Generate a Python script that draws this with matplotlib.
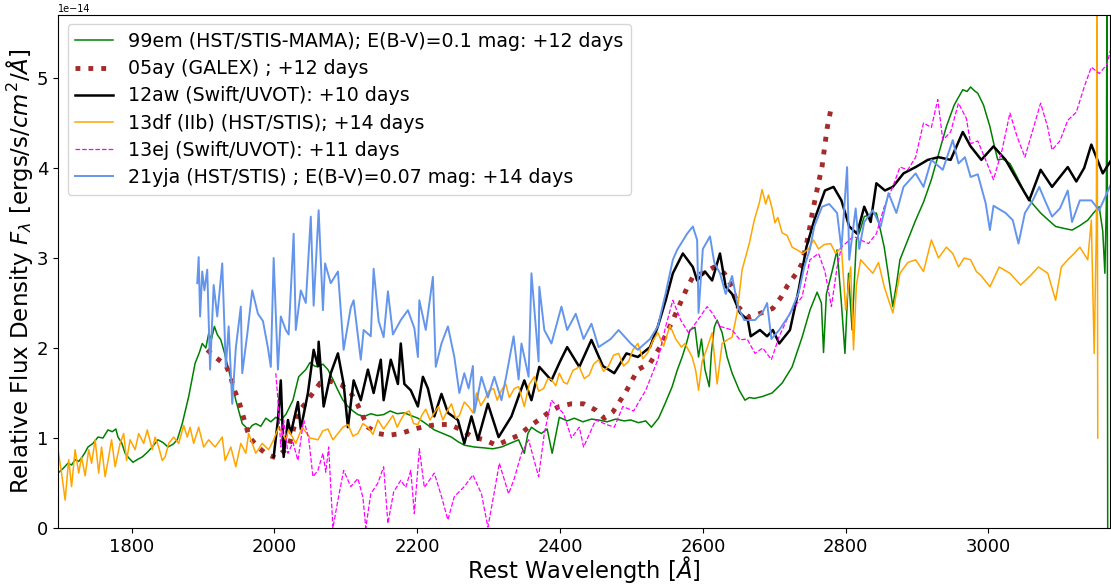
import matplotlib
matplotlib.use("Agg")
import matplotlib.pyplot as plt
import numpy as np

# flux values are in units of 1e-14 ergs/s/cm^2/A

# 99em (HST/STIS-MAMA)
wl_99em = [1697, 1704, 1711, 1716, 1721, 1726, 1731, 1735, 1739, 1746, 1753, 1760, 1767, 1773, 1778, 1781, 1786,
           1791, 1796, 1802, 1808, 1815, 1822, 1829, 1837, 1844, 1851, 1858, 1864, 1871, 1880, 1889, 1895,
           1899, 1904, 1908, 1912, 1916, 1920, 1925, 1930, 1936, 1946, 1955, 1964, 1969, 1974, 1981, 1988,
           1995, 2002, 2009, 2016, 2026, 2034, 2044, 2050, 2056, 2061, 2068, 2075,
           2082, 2089, 2096, 2103, 2110, 2117, 2126, 2135, 2144, 2153, 2162, 2172, 2182, 2191, 2201, 2212, 2224,
           2236, 2248, 2257, 2266, 2280, 2294, 2306, 2318, 2330, 2342, 2350, 2355, 2360, 2367, 2374, 2382, 2389,
           2399, 2410, 2420, 2432, 2444, 2454, 2466, 2478, 2490, 2499, 2510, 2520, 2528, 2538, 2547, 2557, 2564,
           2571, 2577, 2582, 2589, 2594, 2598, 2603, 2609, 2612, 2616, 2620, 2627, 2634, 2641, 2651, 2659, 2665,
           2672, 2683, 2697, 2711, 2725, 2739, 2750, 2760, 2766, 2769, 2773, 2781, 2788, 2794, 2799, 2804, 2809,
           2815, 2820, 2826,
           2834, 2843, 2849, 2854, 2860, 2866, 2871, 2876, 2887, 2898, 2909, 2920, 2930, 2941, 2952, 2964, 2970,
           2975, 2980, 2985, 2993, 3002, 3008, 3013, 3020, 3030, 3040, 3051, 3062, 3073, 3084, 3094, 3105, 3117,
           3128, 3139, 3147, 3155, 3160, 3163, 3165, 3166, 3167]
fx_99em = [0.61, 0.66, 0.72, 0.7, 0.76, 0.74, 0.79, 0.84, 0.9, 0.94, 1.01, 1.0, 1.09, 1.07, 1.1, 1.01, 0.95,
           0.83, 0.78, 0.73, 0.76, 0.79, 0.84, 0.9, 0.98, 0.95, 0.9, 0.93, 0.98, 1.16, 1.46, 1.83, 1.95,
           2.05, 2.0, 2.16, 2.1, 2.24, 2.15, 2.09, 1.95, 1.76, 1.42, 1.16, 1.09, 1.14, 1.16, 1.13, 1.22,
           1.18, 1.23, 1.2, 1.26, 1.42, 1.68, 1.76, 1.84, 1.8, 1.79, 1.82, 1.76,
           1.65, 1.53, 1.42, 1.35, 1.3, 1.26, 1.24, 1.27, 1.25, 1.26, 1.3, 1.27, 1.28, 1.25, 1.22, 1.16, 1.09,
           1.05, 1.01, 0.96, 0.92, 0.9, 0.89, 0.88, 0.9, 0.94, 0.98, 0.83, 1.05, 1.12, 1.08, 1.05, 1.1, 0.83,
           1.23, 1.19, 1.22, 1.18, 1.21, 1.2, 1.18, 1.21, 1.19, 1.2, 1.17, 1.19, 1.12, 1.22, 1.38, 1.57, 1.75,
           1.9, 2.05, 2.2, 2.23, 1.9, 2.1, 1.76, 1.57, 1.95, 2.23, 2.31, 2.17, 1.9, 1.72, 1.53, 1.42, 1.45,
           1.44, 1.46, 1.5, 1.61, 1.79, 2.12, 2.42, 2.62, 2.5, 1.95, 2.6, 2.85, 3.09, 2.5, 1.94, 2.83, 2.2,
           3.2, 3.3, 3.46,
           3.48, 3.5, 3.3, 3.12, 2.8, 2.46, 2.7, 2.98, 3.2, 3.42, 3.62, 3.87, 4.15, 4.46, 4.7, 4.87, 4.85,
           4.9, 4.86, 4.83, 4.7, 4.46, 4.25, 4.09, 4.1, 4.05, 3.9, 3.72, 3.6, 3.5, 3.42, 3.35, 3.33, 3.31,
           3.36, 3.42, 3.5, 3.57, 3.3, 2.83, 3.6, 6.5, -0.5]

# 05ay (GALEX)
wl_05ay = [1906, 1917, 1932, 1939, 1943, 1950, 1955, 1960, 1965, 1977, 1989, 2002, 2020, 2033, 2043, 2054,
           2064, 2079, 2094, 2107, 2116, 2124, 2131, 2145, 2160, 2177, 2196, 2212, 2229, 2245, 2262, 2278,
           2294, 2311, 2328, 2342, 2356, 2370, 2385, 2399, 2416, 2433, 2450, 2462, 2474, 2492, 2509, 2526,
           2540, 2558, 2578, 2586, 2603, 2616, 2630, 2641, 2649, 2665, 2682, 2698, 2710, 2719, 2731, 2739,
           2748, 2753, 2760, 2767, 2774, 2780]
fx_05ay = [1.98, 1.9, 1.81, 1.68, 1.55, 1.42, 1.28, 1.14, 1.01, 0.9, 0.82, 0.78, 0.9, 1.28, 1.38, 1.5,
           1.61, 1.63, 1.59, 1.5, 1.38, 1.24, 1.12, 1.05, 1.03, 1.05, 1.1, 1.13, 1.15, 1.15, 1.09, 1.01,
           0.98, 0.92, 0.98, 1.03, 1.12, 1.2, 1.29, 1.35, 1.38, 1.38, 1.31, 1.22, 1.29, 1.51, 1.76, 1.83,
           2.01, 2.31, 2.67, 2.79, 2.84, 2.9, 2.83, 2.68, 2.46, 2.34, 2.39, 2.44, 2.57, 2.7, 2.83, 2.94,
           3.26, 3.49, 3.76, 4.02, 4.44, 4.68]

# 12aw (Swift/UVOT)
wl_12aw = [1999, 2005, 2009, 2013, 2019, 2023, 2033, 2037, 2047, 2055, 2061, 2062, 2069, 2079, 2089, 2097,
           2103, 2111, 2121, 2131, 2139, 2149, 2153, 2163, 2173, 2177, 2182, 2191, 2201, 2208, 2215, 2224,
           2234, 2243, 2257, 2266, 2276, 2285, 2299, 2314, 2332, 2350, 2360, 2371, 2388, 2400, 2410, 2427,
           2444, 2460, 2476, 2493, 2509, 2526, 2537, 2548, 2558, 2572, 2586, 2592, 2603, 2613, 2624, 2632,
           2641, 2652, 2663, 2667, 2680, 2690, 2698, 2707, 2722, 2734, 2745, 2756, 2771, 2783, 2794, 2805,
           2816, 2826, 2835, 2843, 2855, 2866, 2881, 2898, 2915, 2930, 2947, 2964, 2975, 2990, 3007, 3024,
           3040, 3057, 3073, 3089, 3100, 3111, 3123, 3134, 3144, 3160, 3172]
fx_12aw = [0.79, 1.2, 1.64, 0.79, 1.2, 1.05, 1.4, 1.1, 1.5, 1.98, 1.8, 2.07, 1.35, 1.72, 1.94, 1.6,
           1.12, 1.64, 1.42, 1.76, 1.5, 1.87, 1.42, 1.87, 1.6, 2.05, 1.6, 1.53, 1.35, 1.68, 1.55, 1.24,
           1.49, 1.28, 1.2, 0.94, 1.24, 0.98, 1.38, 1.01, 1.24, 1.64, 1.42, 1.79, 1.64, 1.85, 2.01, 1.79,
           2.09, 1.8, 1.72, 1.94, 1.9, 2.01, 2.24, 2.53, 2.83, 3.05, 2.9, 2.75, 2.85, 2.75, 3.05, 2.68,
           2.6, 2.39, 2.31, 2.13, 2.2, 2.13, 2.2, 2.05, 2.2, 2.64, 3.12, 3.42, 3.75, 3.79, 3.64, 3.35,
           3.27, 3.57, 3.4, 3.83, 3.75, 3.79, 3.94, 4.01, 4.09, 4.12, 4.09, 4.4, 4.24, 4.09, 4.24, 4.09,
           3.87, 3.64, 3.98, 3.79, 3.9, 4.01, 3.85, 4.0, 4.26, 3.94, 4.09]

# 13df (IIb) (HST/STIS)
wl_13df = [1697, 1702, 1707, 1712, 1716, 1721, 1726, 1730, 1735, 1740, 1744, 1749, 1754, 1758, 1763, 1768,
           1772, 1777, 1784, 1789, 1793, 1798, 1805, 1810, 1817, 1822, 1829, 1833, 1838, 1843, 1847, 1852,
           1859, 1866, 1873, 1878, 1882, 1887, 1894, 1901, 1908, 1917, 1927, 1931, 1939, 1946, 1953, 1960,
           1964, 1974, 1983, 1992, 1999, 2006, 2016, 2020, 2030, 2039, 2050, 2061, 2068, 2075, 2082, 2089,
           2096, 2103, 2110, 2117, 2124, 2131, 2138, 2145, 2153, 2160, 2166, 2172, 2177, 2183, 2189, 2195, 2201,
           2207, 2212, 2218, 2224, 2230, 2236, 2242, 2248, 2254, 2259, 2266, 2272, 2278, 2283, 2289, 2294, 2300,
           2307, 2312, 2318, 2324, 2329, 2336, 2342, 2350, 2357, 2364, 2370, 2377, 2383, 2388, 2394, 2399, 2405,
           2410, 2418, 2427, 2434, 2441, 2447, 2454, 2461, 2468, 2475, 2482, 2489, 2496, 2502, 2509, 2516, 2523,
           2530, 2537, 2545, 2554, 2562, 2570, 2575, 2585, 2590, 2594, 2599, 2606, 2613, 2620, 2627, 2634, 2641,
           2648, 2655, 2665, 2672, 2679, 2683, 2688, 2692, 2697, 2701, 2705, 2711, 2718, 2725, 2732, 2740, 2748,
           2755, 2762, 2770, 2779, 2786, 2794, 2800, 2807, 2811, 2815, 2821, 2830, 2838, 2846, 2854, 2866, 2876,
           2887, 2898, 2909, 2920, 2930, 2941, 2950, 2958, 2966, 2975, 2983, 2990, 3002, 3015, 3030, 3045, 3057,
           3070, 3083, 3094, 3102, 3111, 3120, 3128, 3139, 3144, 3148, 3151, 3152, 3153]
fx_13df = [0.87, 0.61, 0.31, 0.76, 0.46, 0.87, 0.61, 0.79, 0.58, 0.87, 0.72, 0.98, 0.61, 0.9, 0.57, 0.79,
           0.98, 0.68, 0.94, 1.05, 0.75, 0.98, 0.87, 1.05, 0.94, 1.09, 0.87, 1.01, 0.9, 0.75, 0.79, 0.94,
           1.01, 0.94, 1.14, 1.01, 1.12, 0.94, 1.12, 0.9, 0.98, 0.9, 1.01, 0.75, 0.9, 0.68, 0.94, 0.83,
           1.05, 0.83, 0.94, 0.87, 0.98, 1.12, 0.98, 1.09, 0.94, 1.12, 1.0, 0.98, 1.08, 1.1, 0.98, 1.05,
           1.12, 1.15, 1.02, 1.05, 1.16, 1.12, 1.04, 1.2, 1.1, 1.18, 1.25, 1.12, 1.2, 1.28, 1.3, 1.16, 1.15,
           1.26, 1.32, 1.2, 1.28, 1.35, 1.2, 1.3, 1.38, 1.22, 1.25, 1.4, 1.35, 1.28, 1.5, 1.36, 1.42, 1.52,
           1.55, 1.42, 1.53, 1.6, 1.45, 1.55, 1.57, 1.35, 1.6, 1.68, 1.52, 1.55, 1.66, 1.65, 1.58, 1.72, 1.62,
           1.6, 1.75, 1.79, 1.66, 1.7, 1.82, 1.87, 1.74, 1.8, 1.92, 1.94, 1.8, 1.85, 1.98, 2.05, 1.88, 1.95,
           2.08, 2.17, 2.02, 2.25, 2.1, 2.01, 2.05, 1.9, 1.75, 1.53, 1.85, 2.0, 2.17, 1.6, 2.05, 2.09, 2.12,
           2.39, 2.87, 3.16, 3.42, 3.61, 3.76, 3.6, 3.7, 3.55, 3.39, 3.45, 3.28, 3.25, 3.12, 3.09, 3.05, 3.1,
           3.2, 3.1, 3.15, 3.16, 3.05, 3.12, 2.42, 2.9, 1.98, 2.7, 2.98, 2.9, 2.83, 2.95, 2.68, 2.39, 2.83,
           2.95, 2.98, 2.85, 3.2, 3.0, 3.12, 3.05, 2.9, 3.0, 2.98, 2.85, 2.8, 2.68, 2.9, 2.83, 2.7, 2.79,
           2.9, 2.83, 2.53, 2.9, 2.98, 3.05, 3.12, 2.98, 3.42, 1.94, 3.3, 6.5, 1.0]

# 13ej (Swift/UVOT)
wl_13ej = [2002, 2005, 2009, 2013, 2019, 2026, 2033, 2041, 2048, 2054, 2061, 2068, 2072, 2076, 2082, 2089,
           2097, 2107, 2117, 2124, 2128, 2135, 2145, 2153, 2159, 2167, 2177, 2184, 2191, 2196, 2203, 2210,
           2224, 2234, 2243, 2252, 2266, 2278, 2290, 2299, 2308, 2315, 2328, 2336, 2346, 2356, 2370, 2378,
           2388, 2405, 2416, 2427, 2433, 2450, 2465, 2476, 2488, 2503, 2520, 2537, 2548, 2558, 2569, 2580,
           2592, 2606, 2614, 2624, 2641, 2652, 2662, 2673, 2684, 2696, 2707, 2722, 2739, 2750, 2762, 2771,
           2780, 2788, 2794, 2811, 2821, 2832, 2843, 2854, 2866, 2876, 2887, 2898, 2909, 2920, 2929, 2936,
           2947, 2958, 2969, 2975, 2985, 2996, 3007, 3019, 3030, 3040, 3051, 3062, 3073, 3083, 3089, 3100,
           3111, 3123, 3134, 3144, 3155, 3166, 3172]
fx_13ej = [1.72, 1.42, 0.9, 1.2, 0.83, 0.95, 0.75, 1.2, 1.0, 0.57, 0.64, 0.83, 0.62, 0.9, 0.0, 0.31,
           0.64, 0.46, 0.55, 0.34, 0.0, 0.38, 0.5, 0.68, 0.05, 0.4, 0.53, 0.45, 0.64, 0.16, 0.88, 0.45,
           0.61, 0.35, 0.09, 0.35, 0.46, 0.59, 0.38, 0.01, 0.4, 0.72, 0.38, 0.55, 0.83, 0.98, 0.57, 1.05,
           1.42, 1.27, 1.0, 1.12, 0.9, 1.2, 1.15, 1.12, 1.35, 1.3, 1.53, 1.87, 2.24, 2.53, 2.31, 2.17,
           2.3, 2.46, 2.38, 2.24, 2.2, 2.09, 2.1, 1.94, 2.0, 1.87, 2.13, 2.39, 2.57, 2.98, 3.05, 2.85,
           2.46, 2.9, 3.12, 3.24, 3.2, 3.16, 3.27, 3.57, 3.79, 4.01, 3.98, 4.12, 4.5, 4.45, 4.76, 4.31,
           4.4, 4.72, 4.55, 4.27, 4.3, 4.09, 3.87, 4.2, 4.61, 4.35, 4.12, 4.42, 4.72, 4.45, 4.2, 4.3,
           4.53, 4.62, 4.9, 5.12, 5.05, 5.15, 5.35]

# 21yja (HST/STIS)
wl_21yja = [1892, 1894, 1896, 1899, 1902, 1906, 1910, 1915, 1920, 1927, 1932, 1936, 1941, 1946, 1953, 1955,
            1962, 1969, 1977, 1984, 1991, 1995, 1999, 2005, 2009, 2016, 2020, 2027, 2030, 2037, 2044, 2051,
            2055, 2062, 2068, 2071, 2079, 2089, 2097, 2107, 2111, 2121, 2125, 2135, 2139, 2146, 2153, 2159,
            2166, 2177, 2187, 2196, 2201, 2203, 2212, 2222, 2226, 2234, 2243, 2252, 2259, 2266, 2272, 2278,
            2280, 2290, 2299, 2308, 2318, 2325, 2335, 2342, 2346, 2356, 2360, 2370, 2371, 2378, 2388, 2402,
            2410, 2422, 2433, 2444, 2454, 2471, 2482, 2499, 2509, 2526, 2537, 2548, 2558, 2564, 2578, 2586,
            2592, 2594, 2600, 2610, 2616, 2624, 2632, 2641, 2649, 2658, 2673, 2684, 2690, 2696, 2707, 2722,
            2734, 2742, 2750, 2756, 2767, 2777, 2788, 2794, 2802, 2805, 2814, 2819, 2826, 2838, 2849, 2860,
            2871, 2881, 2898, 2909, 2920, 2936, 2950, 2958, 2967, 2975, 2985, 2996, 3002, 3007, 3024, 3034,
            3042, 3051, 3062, 3071, 3079, 3089, 3100, 3111, 3117, 3128, 3144, 3155, 3172]
fx_21yja = [2.72, 3.01, 2.35, 2.85, 2.64, 2.87, 1.76, 2.7, 2.35, 2.94, 1.79, 2.24, 1.38, 2.0, 2.46, 1.72,
            2.15, 2.64, 2.38, 2.3, 2.0, 1.79, 3.0, 1.76, 2.35, 2.2, 2.15, 3.27, 2.2, 2.64, 2.5, 3.46,
            2.47, 3.53, 2.42, 2.94, 2.72, 2.85, 1.98, 2.45, 2.53, 1.87, 2.2, 2.13, 2.88, 2.3, 2.12, 2.63,
            2.15, 2.31, 2.42, 2.22, 1.9, 2.53, 2.2, 2.79, 1.79, 2.05, 2.24, 1.9, 1.5, 1.72, 1.55, 1.8,
            1.28, 1.68, 1.45, 1.68, 1.42, 1.7, 2.13, 1.65, 2.05, 1.68, 2.83, 1.85, 2.68, 2.2, 2.05, 2.46,
            2.2, 2.38, 2.1, 2.27, 2.01, 2.1, 2.2, 2.05, 1.98, 2.1, 2.24, 2.61, 2.98, 3.09, 3.27, 3.35,
            3.2, 2.39, 3.1, 3.24, 2.95, 2.83, 2.6, 2.8, 2.46, 2.31, 2.31, 2.4, 2.5, 2.1, 2.2, 2.38,
            2.61, 2.9, 3.1, 3.35, 3.57, 3.6, 3.5, 3.1, 4.01, 2.98, 3.55, 3.1, 3.4, 3.53, 3.35, 3.72,
            3.5, 3.79, 3.94, 3.79, 4.09, 3.98, 4.31, 4.05, 4.12, 3.9, 3.93, 3.61, 3.31, 3.58, 3.5, 3.42,
            3.16, 3.5, 3.64, 3.79, 3.64, 3.46, 3.55, 3.75, 3.4, 3.64, 3.64, 3.53, 3.83]

labels = ["99em (HST/STIS-MAMA); E(B-V)=0.1 mag: +12 days",
          "05ay (GALEX) ; +12 days",
          "12aw (Swift/UVOT): +10 days",
          "13df (IIb) (HST/STIS); +14 days",
          "13ej (Swift/UVOT): +11 days",
          "21yja (HST/STIS) ; E(B-V)=0.07 mag: +14 days"]

fig = plt.figure(figsize=(11.11, 5.87), dpi=100)
ax = fig.add_axes([0.0522, 0.1005, 0.9468, 0.874])

ax.plot(wl_99em, fx_99em, color="green", lw=1.1, label=labels[0])
ax.plot(wl_05ay, fx_05ay, color="brown", lw=3.5, ls=":", label=labels[1])
ax.plot(wl_12aw, fx_12aw, color="black", lw=1.8, label=labels[2])
ax.plot(wl_13df, fx_13df, color="orange", lw=1.1, label=labels[3])
ax.plot(wl_13ej, fx_13ej, color="magenta", lw=0.9, ls="--", label=labels[4])
ax.plot(wl_21yja, fx_21yja, color="cornflowerblue", lw=1.4, label=labels[5])

ax.set_xlim(1697, 3170)
ax.set_ylim(0, 5.7)
ax.set_xticks([1800, 2000, 2200, 2400, 2600, 2800, 3000])
ax.set_yticks([0, 1, 2, 3, 4, 5])
ax.tick_params(labelsize=13)
fig.text(0.0522, 1 - 8.5 / 587, "1e\u221214", fontsize=7, ha="left", va="center")
ax.set_xlabel(r"Rest Wavelength [$\AA$]", fontsize=16.3, labelpad=-1)
ax.set_ylabel(r"Relative Flux Density $F_\lambda$ [ergs/s/$cm^2/\AA$]", fontsize=16.5, labelpad=1)
ax.legend(loc="upper left", fontsize=13.7, labelspacing=0.43)

fig.savefig("out.png", dpi=100)
